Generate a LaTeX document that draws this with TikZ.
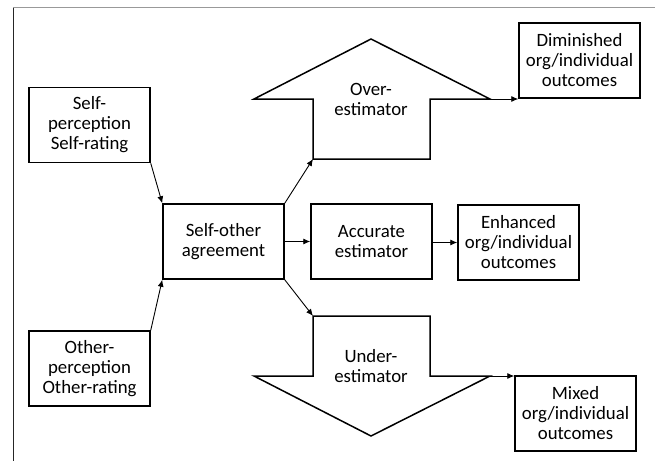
\documentclass[tikz,border=0pt]{standalone}
\usepackage{fontspec}
\setmainfont{Carlito}
\usetikzlibrary{arrows.meta}
\begin{document}
\begin{tikzpicture}[x=1pt,y=-1pt,
  box/.style={draw=black,line width=1.5pt,minimum width=121pt,minimum height=75pt,
    inner sep=0pt,align=center,font=\fontsize{18.8}{20}\selectfont},
  label/.style={inner sep=0pt,align=center,font=\fontsize{18.8}{20}\selectfont},
  bigarrow/.style={draw=black,line width=1.5pt,line join=miter},
  link/.style={draw=black,line width=0.9pt,-{Latex[length=7pt,width=6pt]}}]
\useasboundingbox (0,0) rectangle (655,461);
% page frame
\draw[line width=1.5pt,color=black!40] (13,7.5) -- (655,7.5);
\draw[line width=1pt,color=black!85] (13.5,7.5) -- (13.5,461);

% boxes
\node[box] (self)  at (89.5,125)  {Self-\\perception\\Self-rating};
\node[box] (other) at (89.5,368.5){Other-\\perception\\Other-rating};
\node[box] (agree) at (223.5,241.5){Self-other\\agreement};
\node[box] (acc)   at (371.5,241.5){Accurate\\estimator};
\node[box] (enh)   at (518.5,242.5){Enhanced\\org/individual\\outcomes};
\node[box] (dim)   at (579.5,60.5) {Diminished\\org/individual\\outcomes};
\node[box] (mix)   at (575.5,413.5){Mixed\\org/individual\\outcomes};

% over-estimator block arrow (pointing up)
\draw[bigarrow] (313,159) -- (313,99) -- (254,99) -- (371,39) -- (490,99)
  -- (430,99) -- (430,159) -- cycle;
\coordinate (upL) at (313,159);
\coordinate (upR) at (490,99);
\node[label] (over) at (371,99) {Over-\\estimator};

% under-estimator block arrow (pointing down)
\draw[bigarrow] (313,316) -- (430,316) -- (430,376) -- (490,376) -- (371,436)
  -- (254,376) -- (313,376) -- cycle;
\coordinate (dnL) at (313,316);
\coordinate (dnR) at (490,376);
\node[label] (under) at (371,366) {Under-\\estimator};

% connectors
\draw[link] (self.south east) -- (agree.north west);
\draw[link] (other.north east) -- (agree.south west);
\draw[link] (agree.north east) -- (upL);
\draw[link] (agree.east) -- (acc.west);
\draw[link] (acc.east |- enh.west) -- (enh.west);
\draw[link] (agree.south east) -- (dnL);
\draw[link] (upR) -- (upR -| dim.west);
\draw[link] (dnR) -- (dnR -| mix.west);
\end{tikzpicture}
\end{document}
